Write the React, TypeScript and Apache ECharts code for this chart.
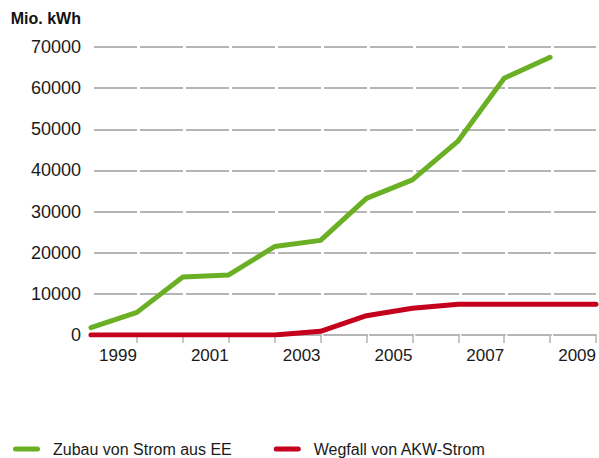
import React, { useEffect, useRef } from "react";
import * as echarts from "echarts";

const years = ["1998", "1999", "2000", "2001", "2002", "2003", "2004", "2005", "2006", "2007", "2008", "2009"];
const eeValues = [1800, 5500, 14100, 14600, 21500, 23000, 33200, 37700, 47200, 62400, 67500, null];
const akwValues = [0, 0, 0, 0, 0, 900, 4700, 6500, 7500, 7500, 7500, 7500];
const seriesNames = ["Zubau von Strom aus EE", "Wegfall von AKW-Strom"];
const unitLabel = "Mio. kWh";

const GREEN = "#6BAF24";
const RED = "#C5001C";
const GRID = "#b5b5b5";
const FONT = "'Liberation Sans', Arial, sans-serif";

export default function App() {
  const ref = useRef<HTMLDivElement>(null);
  useEffect(() => {
    document.body.style.margin = "0";
    const chart = echarts.init(ref.current!, null, { renderer: "svg" });
    const capsule = "path://M2.5,0 H24.5 A2.5,2.5 0 0 1 24.5,5 H2.5 A2.5,2.5 0 0 1 2.5,0 Z";
    chart.setOption({
      animation: false,
      textStyle: { fontFamily: FONT },
      grid: { left: 91, right: 2, top: 47, bottom: 123, containLabel: false },
      graphic: [
        {
          type: "text",
          x: 81,
          y: 18,
          style: {
            text: unitLabel,
            align: "right",
            verticalAlign: "middle",
            font: `bold 16px ${FONT}`,
            fill: "#111",
          },
        },
      ],
      legend: {
        left: 13,
        top: 441,
        itemWidth: 27,
        itemHeight: 5,
        itemGap: 42,
        padding: 0,
        textStyle: { fontSize: 16, color: "#1a1a1a", fontFamily: FONT, padding: [0, 0, 0, 8] },
        data: [
          { name: seriesNames[0], icon: capsule },
          { name: seriesNames[1], icon: capsule },
        ],
      },
      xAxis: {
        type: "category",
        data: years,
        boundaryGap: false,
        axisLine: { lineStyle: { color: GRID, width: 2, type: [43, 3], dashOffset: 43 } },
        axisTick: {
          length: 8,
          interval: (i: number) => i > 0,
          lineStyle: { color: GRID, width: 1.5 },
        },
        axisLabel: {
          interval: (i: number) => i % 2 === 1,
          align: "right",
          fontSize: 17,
          color: "#1a1a1a",
          margin: 12,
        },
        splitLine: { show: false },
      },
      yAxis: {
        type: "value",
        min: 0,
        max: 70000,
        interval: 10000,
        axisLine: { show: false },
        axisTick: { show: false },
        axisLabel: {
          fontSize: 18,
          color: "#1a1a1a",
          margin: 10,
          formatter: (v: number) => String(v),
        },
        splitLine: { lineStyle: { color: GRID, width: 2, type: [43, 3], dashOffset: 43 } },
      },
      series: [
        {
          name: seriesNames[0],
          type: "line",
          data: eeValues,
          symbol: "none",
          color: GREEN,
          lineStyle: { color: GREEN, width: 5, cap: "round", join: "round" },
        },
        {
          name: seriesNames[1],
          type: "line",
          data: akwValues,
          symbol: "none",
          color: RED,
          lineStyle: { color: RED, width: 5, cap: "round", join: "round" },
        },
      ],
    });
    return () => chart.dispose();
  }, []);
  return <div ref={ref} style={{ width: 599, height: 458 }} />;
}
